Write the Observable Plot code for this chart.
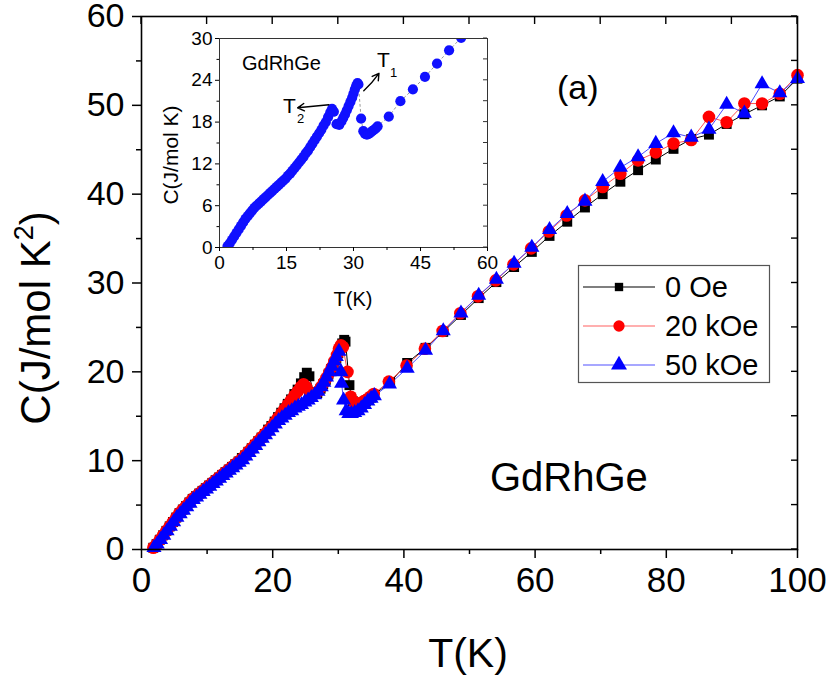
<!DOCTYPE html>
<html><head><meta charset="utf-8">
<script src="https://cdn.jsdelivr.net/npm/d3@7"></script>
<script src="https://cdn.jsdelivr.net/npm/@observablehq/plot@0.6"></script>
<style>
body{margin:0;background:#fff;font-family:"Liberation Sans",Arial,sans-serif;}
#wrap{position:relative;width:833px;height:677px;overflow:hidden;}
#wrap svg{position:absolute;}
</style></head><body><div id="wrap"></div>
<script>
// ---------- data ----------
const seriesNames = ["0 Oe", "20 kOe", "50 kOe"];

const T_0 = [1.8,2.3,2.8,3.3,3.8,4.3,4.8,5.3,5.8,6.3,6.8,7.3,7.8,8.3,8.8,9.3,9.8,10.3,10.8,11.3,11.8,12.3,12.8,13.3,13.8,14.3,14.8,15.3,15.8,16.3,16.8,17.3,17.8,18.3,18.8,19.3,19.8,20.3,20.8,21.3,21.8,22.3,22.8,23.3,23.8,24.3,24.8,25.2,25.6,26.2,26.8,27.3,27.7,28.1,28.5,28.9,29.3,29.7,30.0,30.3,30.6,30.9,31.1,31.7,32.2,32.6,33.0,33.4,33.8,34.2,34.6,35.0,35.4,
  37.9,40.5,43.3,46.0,48.7,51.4,54.1,56.8,59.5,62.2,64.9,67.6,70.3,73.0,75.7,78.4,81.1,83.8,86.5,89.2,91.9,94.6,97.3,100.0];
const C_0 = [0.2,0.6,1.1,1.6,2.1,2.6,3.1,3.6,4.1,4.5,4.9,5.3,5.7,6.0,6.3,6.6,6.9,7.2,7.5,7.8,8.1,8.4,8.7,9.0,9.3,9.6,9.9,10.3,10.6,11.0,11.4,11.8,12.2,12.6,13.0,13.5,13.9,14.4,14.9,15.4,15.9,16.4,16.9,17.5,18.0,18.7,19.4,19.9,19.5,17.7,17.6,18.1,18.6,19.1,19.7,20.3,20.9,21.5,22.1,22.7,23.2,23.6,23.4,18.5,16.7,16.3,16.2,16.3,16.5,16.7,16.9,17.1,17.4,
  18.8,21.0,22.7,24.5,26.4,28.3,30.1,31.8,33.5,35.3,36.9,38.5,40.0,41.4,42.7,43.9,45.1,46.2,46.7,47.9,49.0,50.0,51.0,53.0];

const T_20 = [1.8,2.3,2.8,3.3,3.8,4.3,4.8,5.3,5.8,6.3,6.8,7.3,7.8,8.3,8.8,9.3,9.8,10.3,10.8,11.3,11.8,12.3,12.8,13.3,13.8,14.3,14.8,15.3,15.8,16.3,16.8,17.3,17.8,18.3,18.8,19.3,19.8,20.3,20.8,21.3,21.8,22.3,22.8,23.3,23.8,24.3,24.7,25.1,25.7,26.3,26.9,27.4,27.8,28.2,28.6,29.0,29.4,29.8,30.1,30.4,30.7,31.4,31.9,32.4,32.9,33.4,33.9,34.4,34.9,35.4,
  37.7,40.4,43.2,45.9,48.6,51.3,54.0,56.7,59.4,62.1,64.8,67.6,70.3,73.0,75.7,78.4,81.1,83.8,86.5,89.2,91.9,94.6,97.3,100.0];
const C_20 = [0.2,0.6,1.1,1.6,2.1,2.6,3.1,3.6,4.1,4.5,4.9,5.3,5.7,6.0,6.3,6.6,6.9,7.2,7.5,7.8,8.1,8.4,8.7,9.0,9.3,9.6,9.9,10.2,10.6,11.0,11.4,11.8,12.2,12.6,13.0,13.4,13.8,14.3,14.8,15.3,15.8,16.3,16.8,17.3,17.8,18.3,18.6,18.3,17.6,17.5,17.8,18.3,18.8,19.3,19.9,20.5,21.2,21.9,22.6,23.0,22.8,20.0,17.2,16.6,16.4,16.5,16.7,16.9,17.2,17.5,
  18.9,20.7,22.6,24.6,26.6,28.5,30.3,32.1,33.9,35.8,37.6,39.3,40.8,42.3,43.8,44.7,45.7,46.1,48.7,48.1,50.2,50.2,51.3,53.4];

const T_50 = [1.9,2.4,2.9,3.4,3.9,4.4,4.9,5.4,5.9,6.4,6.9,7.4,7.9,8.4,8.9,9.4,9.9,10.4,10.9,11.4,11.9,12.4,12.9,13.4,13.9,14.4,14.9,15.4,15.9,16.4,16.9,17.4,17.9,18.4,18.9,19.4,19.9,20.4,20.9,21.4,21.9,22.4,22.9,23.4,23.9,24.4,24.9,25.4,25.9,26.4,26.9,27.4,27.8,28.2,28.6,29.0,29.4,29.7,30.1,30.4,30.5,30.8,31.2,31.6,32.0,32.5,33.0,33.5,34.0,34.5,35.0,35.5,
  37.8,40.5,43.3,46.0,48.7,51.4,54.1,56.8,59.5,62.2,64.9,67.6,70.3,73.0,75.7,78.4,81.1,83.8,86.5,89.2,91.9,94.6,97.3,100.0];
const C_50 = [0.2,0.6,1.1,1.6,2.1,2.6,3.1,3.6,4.0,4.4,4.8,5.2,5.6,5.9,6.2,6.5,6.8,7.1,7.4,7.7,8.0,8.3,8.6,8.9,9.2,9.5,9.8,10.1,10.5,10.9,11.3,11.7,12.1,12.5,12.9,13.3,13.7,14.1,14.5,14.8,15.1,15.4,15.6,15.9,16.1,16.3,16.6,16.8,17.1,17.4,17.8,18.3,18.8,19.4,20.0,20.6,21.2,21.7,22.3,20.0,18.7,16.8,15.6,15.3,15.3,15.4,15.6,15.9,16.3,16.7,17.0,17.3,
  18.6,20.4,22.4,24.6,26.6,28.6,30.4,32.2,34.0,36.0,37.8,39.2,41.4,43.0,44.2,45.7,46.9,46.4,47.3,50.1,49.1,52.4,51.4,53.0];

// ticks
const xMajor = [0,20,40,60,80,100];
const xMinor = [10,30,50,70,90];
const yMajor = [0,10,20,30,40,50,60];
const yMinor = [5,15,25,35,45,55];
const insetXMajor = [0,15,30,45,60];
const insetXMinor = [7.5,22.5,37.5,52.5];
const insetYMajor = [0,6,12,18,24,30];
const insetYMinor = [3,9,15,21,27];

// inset annotation arrows (data units: T, C)
const arrowT1 = {x1: 32.3, y1: 22.5, x2: 35.7, y2: 25.0};
const arrowT2 = {x1: 24.5, y1: 20.5, x2: 17.5, y2: 20.05};

// ---------- build ----------
const rows = (T, C) => T.map((t, i) => ({T: t, C: C[i]}));
const d0 = rows(T_0, C_0), d20 = rows(T_20, C_20), d50 = rows(T_50, C_50);
const FONT = "Liberation Sans, Arial, Helvetica, sans-serif";

const W = 833, H = 677, ML = 141, MR = 36, MT = 16, MB = 128;

const main = Plot.plot({
  width: W, height: H,
  marginLeft: ML, marginRight: MR, marginTop: MT, marginBottom: MB,
  x: {domain: [0, 100]},
  y: {domain: [0, 60]},
  style: {fontFamily: FONT, color: "black", background: "transparent", overflow: "visible"},
  marks: [
    Plot.line(d0, {x: "T", y: "C", stroke: "#000", strokeWidth: 1}),
    Plot.line(d20, {x: "T", y: "C", stroke: "#ff5050", strokeWidth: 1}),
    Plot.line(d50, {x: "T", y: "C", stroke: "#4a4aff", strokeWidth: 1}),
    Plot.dot(d0, {x: "T", y: "C", symbol: "square", r: 5.6, fill: "#000", stroke: "none"}),
    Plot.dot(d20, {x: "T", y: "C", symbol: "circle", r: 6.3, fill: "#ff0000", stroke: "none"}),
    Plot.dot(d50, {x: "T", y: "C", symbol: "triangle", r: 5.6, fill: "#0000ff", stroke: "none"}),
    Plot.frame({stroke: "#000", strokeWidth: 1.6}),
    Plot.axisX(xMajor, {tickSize: 9, tickPadding: 9, fontSize: 35, label: null, strokeWidth: 1.5}),
    Plot.axisX(xMinor, {tickSize: 5, fill: "none", label: null, strokeWidth: 1.5}),
    Plot.axisY(yMajor, {tickSize: 9, tickPadding: 8, fontSize: 34, label: null, strokeWidth: 1.5}),
    Plot.axisY(yMinor, {tickSize: 5, fill: "none", label: null, strokeWidth: 1.5})
  ]
});
main.style.left = "0px"; main.style.top = "0px";

const IW = 350, IH = 290, IML = 69, IMR = 13, IMT = 13, IMB = 68, IX = 150, IY = 25;
const dInset = d0.filter(d => d.T <= 55);
const inset = Plot.plot({
  width: IW, height: IH,
  marginLeft: IML, marginRight: IMR, marginTop: IMT, marginBottom: IMB,
  x: {domain: [0, 60]},
  y: {domain: [0, 30]},
  style: {fontFamily: FONT, color: "black", background: "transparent", overflow: "visible"},
  marks: [
    Plot.line(dInset, {x: "T", y: "C", stroke: "#999", strokeWidth: 1, strokeDasharray: "2,3", clip: true}),
    Plot.dot(dInset, {x: "T", y: "C", r: 5.1, fill: "#1010ff", stroke: "none", clip: true}),
    Plot.arrow([arrowT1], {x1: "x1", y1: "y1", x2: "x2", y2: "y2", bend: -6, stroke: "#000", strokeWidth: 1.4, headLength: 8}),
    Plot.arrow([arrowT2], {x1: "x1", y1: "y1", x2: "x2", y2: "y2", bend: 0, stroke: "#000", strokeWidth: 1.4, headLength: 8}),
    Plot.frame({stroke: "#333", strokeWidth: 1}),
    Plot.axisX(insetXMajor, {tickSize: 4, tickPadding: 4, fontSize: 19, label: null}),
    Plot.axisX(insetXMinor, {tickSize: 3, fill: "none", label: null}),
    Plot.axisY(insetYMajor, {tickSize: 4, tickPadding: 3, fontSize: 19, label: null}),
    Plot.axisY(insetYMinor, {tickSize: 2.5, fill: "none", label: null})
  ]
});
inset.style.left = IX + "px"; inset.style.top = IY + "px";

const wrap = document.getElementById("wrap");
wrap.appendChild(main);
wrap.appendChild(inset);

// ---------- overlay: inward ticks, texts & legend ----------
const ov = d3.select(wrap).append("svg")
  .attr("width", W).attr("height", H)
  .style("left", "0px").style("top", "0px")
  .style("font-family", FONT).style("pointer-events", "none");

// inward ticks positioned through the plots' own scales
const sx = main.scale("x"), sy = main.scale("y");
const topY = sy.apply(60), rightX = sx.apply(100);
[...xMajor, ...xMinor].forEach(v => {
  const px = sx.apply(v);
  ov.append("line").attr("x1", px).attr("x2", px).attr("y1", topY).attr("y2", topY + 8)
    .attr("stroke", "#000").attr("stroke-width", 1.4);
});
[...yMajor, ...yMinor].forEach(v => {
  const py = sy.apply(v);
  ov.append("line").attr("x1", rightX - 6).attr("x2", rightX).attr("y1", py).attr("y2", py)
    .attr("stroke", "#000").attr("stroke-width", 1.4);
});
const isx = inset.scale("x"), isy = inset.scale("y");
const iRight = IX + isx.apply(60);
[...insetYMajor, ...insetYMinor].forEach(v => {
  const py = IY + isy.apply(v);
  ov.append("line").attr("x1", iRight - 4).attr("x2", iRight).attr("y1", py).attr("y2", py)
    .attr("stroke", "#333").attr("stroke-width", 1);
});

function txt(s, x, y, size, anchor = "start") {
  return ov.append("text").attr("x", x).attr("y", y).attr("font-size", size)
    .attr("text-anchor", anchor).attr("fill", "#000").text(s);
}
txt("(a)", 557, 99, 34);
txt("GdRhGe", 490, 491, 40);
txt("T(K)", 468, 667, 41, "middle");
const yl = ov.append("text").attr("transform", "translate(50,318) rotate(-90)")
  .attr("text-anchor", "middle").attr("font-size", 42).attr("fill", "#000");
yl.append("tspan").text("C(J/mol K");
yl.append("tspan").attr("font-size", 27).attr("dy", -17).text("2");
yl.append("tspan").attr("dy", 17).text(")");

txt("GdRhGe", 242, 70, 20);
txt("T(K)", 353, 306, 20, "middle");
ov.append("text").attr("transform", "translate(178,155) rotate(-90)")
  .attr("text-anchor", "middle").attr("font-size", 21).attr("fill", "#000").text("C(J/mol K)");
txt("T", 377, 67, 21); txt("1", 390, 77, 13);
txt("T", 283, 113, 21); txt("2", 297, 123, 13);

// legend
const lg = ov.append("g");
lg.append("rect").attr("x", 578.5).attr("y", 265.5).attr("width", 191).attr("height", 117)
  .attr("fill", "#fff").attr("stroke", "#555").attr("stroke-width", 1.2);
const legendLine = ["#000", "#ff6060", "#5050ff"];
const legendFill = ["#000", "#ff0000", "#0000ff"];
const legendSym = [d3.symbolSquare, d3.symbolCircle, d3.symbolTriangle];
const legendSize = [70, 100, 110];
seriesNames.forEach((name, i) => {
  const y = 287 + 39 * i;
  lg.append("line").attr("x1", 583).attr("x2", 655).attr("y1", y).attr("y2", y)
    .attr("stroke", legendLine[i]).attr("stroke-width", 1.2);
  lg.append("path").attr("d", d3.symbol(legendSym[i], legendSize[i])())
    .attr("transform", `translate(619,${y})`).attr("fill", legendFill[i]);
  lg.append("text").attr("x", 665).attr("y", y + 10).attr("font-size", 29).attr("fill", "#000").text(name);
});
</script>
</body></html>
